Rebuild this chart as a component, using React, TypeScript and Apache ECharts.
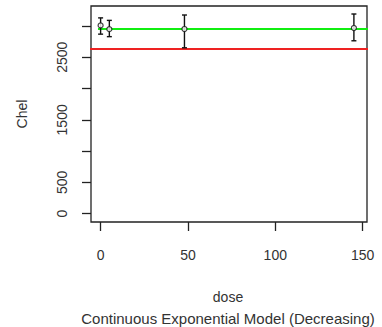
import React, { useEffect, useRef } from "react";
import * as echarts from "echarts";

// Observed dose groups: mean response and the ends of each error bar
const doses = [0, 5, 48, 145];
const means = [3010, 2950, 2952, 2968];
const lowers = [2870, 2830, 2652, 2764];
const uppers = [3130, 3090, 3176, 3192];

// Fitted exponential model (flat over the dose range) and the reference level
const fitDose = [-1.5, 160];
const fitValue = [2952, 2952];
const refLevel = 2631;

const yTicks = [0, 500, 1000, 1500, 2000, 2500, 3000];
const yLabels = [0, 500, 1500, 2500];
const xTicks = [0, 50, 100, 150];

const FONT = "'Liberation Sans', Arial, sans-serif";

export default function App() {
  const ref = useRef<HTMLDivElement>(null);

  useEffect(() => {
    if (!ref.current) return;
    const chart = echarts.init(ref.current, undefined, { renderer: "svg" });

    const gridLeft = 91;
    const gridTop = 6;
    const gridW = 276;
    const gridH = 216;

    chart.setOption({
      animation: false,
      backgroundColor: "#ffffff",
      grid: {
        left: gridLeft,
        top: gridTop,
        width: gridW,
        height: gridH,
        show: true,
        borderColor: "#222222",
        borderWidth: 1.3,
        backgroundColor: "transparent",
      },
      xAxis: {
        type: "value",
        min: -5.5,
        max: 152.5,
        splitLine: { show: false },
        axisLine: { show: false, onZero: false },
        axisTick: {
          show: true,
          inside: false,
          length: 9,
          customValues: xTicks,
          lineStyle: { color: "#222222", width: 1.3 },
        },
        axisLabel: {
          customValues: xTicks,
          margin: 26,
          fontFamily: FONT,
          fontSize: 14,
          color: "#333333",
          formatter: (v: number) => String(v),
        },
      },
      yAxis: {
        type: "value",
        min: -133,
        max: 3320,
        splitLine: { show: false },
        axisLine: { show: false, onZero: false },
        axisTick: {
          show: true,
          inside: false,
          length: 9,
          customValues: yTicks,
          lineStyle: { color: "#222222", width: 1.3 },
        },
        axisLabel: {
          customValues: yLabels,
          rotate: 90,
          margin: 22,
          fontFamily: FONT,
          fontSize: 14,
          color: "#333333",
          formatter: (v: number) => String(v),
        },
      },
      graphic: [
        {
          type: "text",
          x: 22,
          y: gridTop + gridH / 2,
          rotation: Math.PI / 2,
          style: {
            text: "Chel",
            fontFamily: FONT,
            fontSize: 14,
            fill: "#333333",
            textAlign: "center",
            textVerticalAlign: "middle",
          },
        },
        {
          type: "text",
          x: gridLeft + gridW / 2 - 1,
          y: 297,
          style: {
            text: "dose",
            fontFamily: FONT,
            fontSize: 14,
            fill: "#333333",
            textAlign: "center",
            textVerticalAlign: "middle",
          },
        },
        {
          type: "text",
          x: 228,
          y: 318,
          style: {
            text: "Continuous Exponential Model (Decreasing)",
            fontFamily: FONT,
            fontSize: 15,
            fill: "#333333",
            textAlign: "center",
            textVerticalAlign: "middle",
          },
        },
      ],
      series: [
        {
          type: "line",
          data: [
            [-10, refLevel],
            [170, refLevel],
          ],
          symbol: "none",
          lineStyle: { color: "#ee2222", width: 2 },
          z: 2,
        },
        {
          type: "line",
          data: fitDose.map((d, i) => [d, fitValue[i]]),
          symbol: "none",
          lineStyle: { color: "#11ee11", width: 2 },
          z: 3,
        },
        {
          type: "custom",
          data: doses.map((d, i) => [d, lowers[i], uppers[i]]),
          renderItem: (params: any, api: any) => {
            const x = api.value(0);
            const lo = api.coord([x, api.value(1)]);
            const hi = api.coord([x, api.value(2)]);
            const cap = 2.5;
            const style = { stroke: "#111111", lineWidth: 1.4 };
            return {
              type: "group",
              children: [
                { type: "line", shape: { x1: lo[0], y1: lo[1], x2: hi[0], y2: hi[1] }, style },
                { type: "line", shape: { x1: lo[0] - cap, y1: lo[1], x2: lo[0] + cap, y2: lo[1] }, style },
                { type: "line", shape: { x1: hi[0] - cap, y1: hi[1], x2: hi[0] + cap, y2: hi[1] }, style },
              ],
            };
          },
          z: 4,
        },
        {
          type: "scatter",
          data: doses.map((d, i) => [d, means[i]]),
          symbol: "circle",
          symbolSize: 5,
          itemStyle: { color: "#ffffff", borderColor: "#111111", borderWidth: 1.2 },
          z: 5,
        },
      ],
    });

    return () => chart.dispose();
  }, []);

  return (
    <div
      ref={ref}
      style={{ position: "fixed", left: 0, top: 0, width: 382, height: 327 }}
    />
  );
}
